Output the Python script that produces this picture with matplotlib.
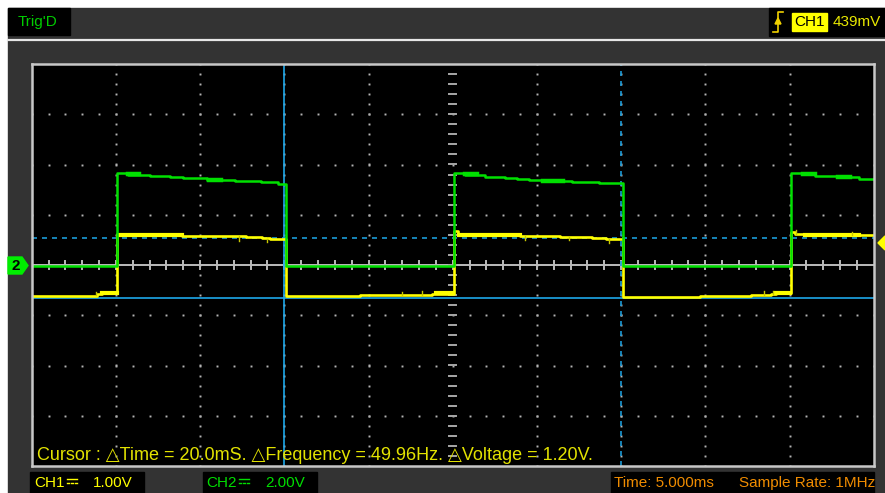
import numpy as np
import matplotlib.pyplot as plt
from matplotlib.patches import Rectangle, Polygon

plt.rcParams['font.family'] = ['Liberation Sans', 'DejaVu Sans']

# scope settings
TIME_DIV = 5.0     # ms / div
CH1_DIV = 1.0      # V / div
CH2_DIV = 2.0      # V / div

# CH1 (yellow) trace, level changes in ms and V
ch1_t = [0.0, 3.9, 4.2, 5.08, 5.7, 8.9, 10.0, 12.7, 13.7, 14.15,
         15.08, 18.0, 19.5, 21.9, 23.8, 25.05, 25.3, 29.0, 31.4, 33.3, 34.1,
         35.1, 39.7, 42.7, 43.9, 44.2, 45.1, 45.35, 45.9, 49.1, 50.0]
ch1_v = [-0.61, -0.58, -0.56, 0.62, 0.60, 0.58, 0.57, 0.56, 0.53, 0.51,
         -0.62, -0.61, -0.60, -0.59, -0.57, 0.68, 0.60, 0.58, 0.56, 0.54, 0.51,
         -0.63, -0.61, -0.59, -0.57, -0.55, 0.66, 0.62, 0.60, 0.59, 0.59]

# CH2 (green) trace
ch2_t = [0.0, 5.08, 5.7, 7.0, 8.2, 9.0, 10.4, 12.1, 13.6, 14.6,
         15.08, 25.05, 25.74, 26.45, 26.9, 28.1, 28.8, 29.55, 30.3, 32.1, 33.7,
         35.1, 45.1, 45.8, 46.5, 47.1, 48.3, 49.1, 50.0]
ch2_v = [-0.04, 3.65, 3.60, 3.54, 3.50, 3.46, 3.40, 3.34, 3.30, 3.24,
         -0.04, 3.65, 3.60, 3.58, 3.52, 3.48, 3.44, 3.38, 3.36, 3.30, 3.26,
         -0.04, 3.65, 3.61, 3.56, 3.54, 3.50, 3.41, 3.41]

# thicker noisy stretches (t start, t end, level)
ch1_blocks = [(4.2, 5.05, -0.56), (24.0, 25.0, -0.555), (44.2, 45.05, -0.555),
              (5.2, 8.9, 0.605), (25.4, 29.0, 0.60), (45.9, 49.1, 0.60)]
ch2_blocks = [(5.7, 6.35, 3.61), (10.5, 11.25, 3.40), (25.75, 26.45, 3.61),
              (30.35, 31.55, 3.36), (45.8, 46.5, 3.62), (47.9, 48.6, 3.50)]

# short glitches on CH1 (t, from, to)
ch1_spikes = [(3.8, -0.60, -0.53), (12.3, 0.57, 0.48), (14.0, 0.52, 0.46),
              (22.0, -0.60, -0.53), (23.2, -0.59, -0.51), (29.3, 0.58, 0.50),
              (31.9, 0.56, 0.50), (34.3, 0.52, 0.44), (43.5, -0.59, -0.52),
              (44.0, -0.58, -0.51), (45.4, 0.62, 0.69), (48.7, 0.60, 0.65)]

# cursors: time (ms) and CH1 voltage (V)
cursor_t = [15.0, 35.0]
cursor_v = [-0.66, 0.54]
trig_level = 0.439

W, H = 885, 493
fig = plt.figure(figsize=(W / 100, H / 100), dpi=100)
fig.patch.set_facecolor('white')


def fx(x):
    return x / W


def fy(y):
    return 1 - y / H


# background panel in pixel coordinates
bg = fig.add_axes([0, 0, 1, 1], zorder=0)
bg.set_xlim(0, W)
bg.set_ylim(H, 0)
bg.axis('off')
bg.add_patch(Rectangle((8, 8), W - 8, H - 8, color='#333333'))
bg.plot([8, W], [40, 40], color='#e6e6e6', lw=1.6)

# top bar boxes
bg.add_patch(Rectangle((8, 8), 62, 27, color='black'))
bg.add_patch(Rectangle((769, 8), W - 769, 28, color='black'))
bg.add_patch(Rectangle((792, 13), 35, 18, color='#ffff00'))
bg.plot([773, 778, 778, 783], [32, 32, 12, 12], color='#f0d000', lw=1.2)
bg.add_patch(Polygon([(775, 24), (781, 24), (778, 18)], color='#f0d000'))

# bottom boxes
bg.add_patch(Rectangle((30, 472), 114, 21, color='black'))
bg.add_patch(Rectangle((203, 472), 114, 21, color='black'))
bg.add_patch(Rectangle((611, 472), 263, 21, color='black'))

# DC coupling symbols
for x0, col in [(67, '#ffff00'), (239, '#00dd00')]:
    bg.plot([x0, x0 + 10], [479, 479], color=col, lw=1)
    for dx in [0, 4, 8]:
        bg.plot([x0 + dx, x0 + dx + 2], [483, 483], color=col, lw=1)

# channel 2 ground marker and trigger level marker
bg.add_patch(Polygon([(8, 257), (22, 257), (28, 265.5), (22, 274), (8, 274)], color='#00ee00'))
trig_y = 265 - trig_level / CH1_DIV * 50.25
bg.add_patch(Polygon([(878, trig_y), (885, trig_y - 7), (885, trig_y + 7)], color='#ffff00'))

# scope screen
ax = fig.add_axes([fx(31.7), 1 - 466 / H, 842 / W, 402 / H], zorder=1)
ax.set_facecolor('black')
ax.set_xlim(0, 10 * TIME_DIV)
ax.set_ylim(-4, 4)
ax.set_xticks([])
ax.set_yticks([])
for s in ax.spines.values():
    s.set_color('#c8c8c8')
    s.set_linewidth(1.8)

# dotted graticule
gx, gy = np.meshgrid([5, 10, 15, 20, 30, 35, 40, 45], np.arange(-4, 4.01, 0.2))
ax.plot(gx.ravel(), gy.ravel(), ls='none', marker='s', ms=1.4, mew=0, color='#b4b4b4')
gx, gy = np.meshgrid(np.arange(0, 50.01, 1.0), [-3, -2, -1, 1, 2, 3])
ax.plot(gx.ravel(), gy.ravel(), ls='none', marker='s', ms=1.4, mew=0, color='#b4b4b4')

# center cross with ticks
ax.axhline(0, color='#bcbcbc', lw=1.4)
for t in np.arange(1, 50, 1.0):
    ax.plot([t, t], [-0.07, 0.07], color='#bcbcbc', lw=1.4)
for v in np.arange(-3.8, 3.81, 0.2):
    ax.plot([24.8, 25.2], [v, v], color='#a8a8a8', lw=1.4)

# cursors
ax.axvline(cursor_t[0], color='#1ea8ea', lw=1.2)
ax.axvline(cursor_t[1], color='#1a9ad6', lw=1.2, dashes=(3, 3))
ax.axhline(cursor_v[0] / CH1_DIV, color='#1ea8ea', lw=1.2)
ax.axhline(cursor_v[1] / CH1_DIV, color='#1a9ad6', lw=1.2, dashes=(3, 3))

# traces
y1 = np.array(ch1_v) / CH1_DIV
y2 = np.array(ch2_v) / CH2_DIV
ax.plot(ch1_t, y1, drawstyle='steps-post', color='#ffff00', lw=1.9)
for t0, t1, v in ch1_blocks:
    ax.plot([t0, t1], [v / CH1_DIV, v / CH1_DIV], color='#ffff00', lw=3)
for t, a, b in ch1_spikes:
    ax.plot([t, t], [a / CH1_DIV, b / CH1_DIV], color='#c8c800', lw=1)
ax.plot(ch2_t, y2, drawstyle='steps-post', color='#00e000', lw=1.8)
for t0, t1, v in ch2_blocks:
    ax.plot([t0, t1], [v / CH2_DIV, v / CH2_DIV], color='#00e000', lw=3.2)

# text
fig.text(fx(18), fy(22), "Trig'D", color='#00cc00', fontsize=11, va='center')
fig.text(fx(809.5), fy(22), 'CH1', color='black', fontsize=11, va='center', ha='center')
fig.text(fx(833), fy(22), '439mV', color='#e8e800', fontsize=11, va='center')
fig.text(fx(37), fy(456),
         'Cursor : \u25b3Time = 20.0mS. \u25b3Frequency = 49.96Hz. \u25b3Voltage = 1.20V.',
         color='#e2e200', fontsize=12.95, va='center')
fig.text(fx(34), fy(483), 'CH1', color='#ffff00', fontsize=11, va='center')
fig.text(fx(93), fy(483), '1.00V', color='#ffff00', fontsize=11, va='center')
fig.text(fx(206), fy(483), 'CH2', color='#00dd00', fontsize=11, va='center')
fig.text(fx(265), fy(483), '2.00V', color='#00dd00', fontsize=11, va='center')
fig.text(fx(614), fy(483), 'Time: 5.000ms', color='#f08c00', fontsize=11, va='center')
fig.text(fx(739), fy(483), 'Sample Rate: 1MHz', color='#f08c00', fontsize=11, va='center')
fig.text(fx(16), fy(266), '2', color='black', fontsize=11, fontweight='bold', va='center', ha='center')

plt.savefig('out.png', dpi=100, facecolor=fig.get_facecolor())
